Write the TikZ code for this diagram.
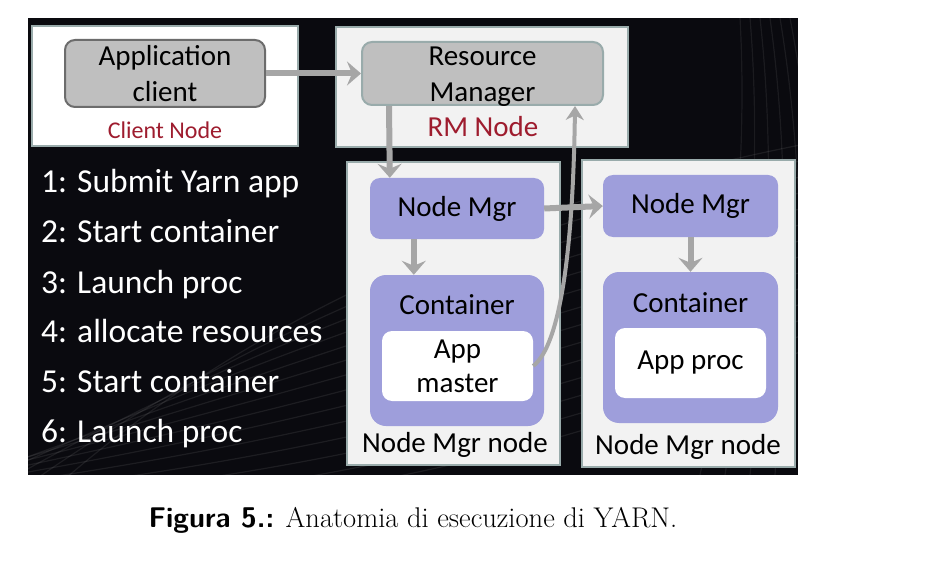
\documentclass[tikz,border=0pt]{standalone}
\usepackage{fontspec}
\usetikzlibrary{arrows.meta,calc}
\newfontfamily\calibri{Carlito}

\definecolor{bgdark}{rgb}{0.04,0.04,0.06}
\definecolor{boxedge}{rgb}{0.60,0.67,0.67}
\definecolor{boxfill}{rgb}{0.95,0.95,0.95}
\definecolor{mgrgray}{rgb}{0.75,0.75,0.75}
\definecolor{lavender}{rgb}{0.62,0.62,0.86}
\definecolor{darkred}{rgb}{0.62,0.11,0.18}
\definecolor{arrowgray}{rgb}{0.65,0.65,0.65}

\tikzset{
  hostbox/.style={draw=boxedge, line width=2.5pt, fill=boxfill, minimum width=#1},
  graybox/.style={draw=boxedge, line width=2pt, fill=mgrgray, rounded corners=10pt,
    align=center, font=\calibri\fontsize{29}{36}\selectfont},
  mgrbox/.style={fill=lavender, rounded corners=10pt, font=\calibri\fontsize{29}{36}\selectfont},
  procbox/.style={fill=white, rounded corners=10pt, align=center,
    font=\calibri\fontsize{29}{34}\selectfont},
  hostlabel/.style={font=\calibri\fontsize{29}{34}\selectfont},
  steplabel/.style={anchor=base west, text=white, font=\calibri\fontsize{33.5}{38}\selectfont},
  arr/.style={draw=arrowgray, line width=6pt, -{Stealth[length=14pt,width=24pt,inset=5pt]}},
}

\begin{document}
\begin{tikzpicture}[x=1pt, y=-1pt, inner sep=0pt]
    \useasboundingbox (0,0) rectangle (926,572);
    % background
    \fill[bgdark] (28,18) rectangle (798,475);
    \begin{scope}
        \clip (28,18) rectangle (798,475);
        \foreach \k in {0,...,13}
            \draw[white, opacity=0.08, line width=1.2pt]
                (960,120+12*\k) .. controls (700,150+20*\k) and (300,250+25*\k) .. (20-40*\k,520);
        \foreach \k in {0,...,5}
            \draw[white, opacity=0.07, line width=1.2pt]
                (740+10*\k,18) .. controls (750+15*\k,200) and (720+20*\k,380) .. (700+25*\k,475);
    \end{scope}

    % client node
    \node[hostbox=266pt, fill=white, minimum height=120pt] (clienthost) at (165,86) {};
    \node[graybox, draw=gray!85!black, minimum width=200pt, minimum height=67pt] (appclient) at (165,73.5)
        {Application\\client};
    \node[text=darkred, font=\calibri\fontsize{24}{28}\selectfont] (clientlbl) at (165,130) {Client Node};

    % resource manager node
    \node[hostbox=292pt, minimum height=120pt] (rmhost) at (482,87) {};
    \node[graybox, minimum width=241pt, minimum height=63pt] (rm) at (482.5,73.5)
        {\raisebox{-2pt}{Resource}\\\smash{\raisebox{-2pt}{Manager}}};
    \node[hostlabel, text=darkred] (rmlbl) at (483,127) {RM Node};

    % node manager node (left)
    \node[hostbox=213pt, minimum height=303pt] (hostA) at (453.5,313.5) {};
    \node[mgrbox, minimum width=174pt, minimum height=61pt] (nmA) at (457,208.5) {Node Mgr};
    \node[mgrbox, rounded corners=16pt, minimum width=174pt, minimum height=151pt] (contA) at (457,350.5) {};
    \node[hostlabel] (contAlbl) at (457,305) {Container};
    \node[procbox, minimum width=151pt, minimum height=70pt] (amaster) at (457.5,366) {App\\master};
    \node[hostlabel] (hostAlbl) at (455,445) {Node Mgr node};

    % node manager node (right)
    \node[hostbox=213pt, minimum height=307pt] (hostB) at (688.5,313.5) {};
    \node[mgrbox, minimum width=175pt, minimum height=62pt] (nmB) at (690.5,206) {Node Mgr};
    \node[mgrbox, rounded corners=16pt, minimum width=175pt, minimum height=151pt] (contB) at (690.5,347.5) {};
    \node[hostlabel] (contBlbl) at (690.5,303) {Container};
    \node[procbox, minimum width=151pt, minimum height=70pt] (aproc) at (690.5,363) {App proc};
    \node[hostlabel] (hostBlbl) at (688,447) {Node Mgr node};

    % steps
    \node[steplabel] (s1) at (41,193) {1: Submit Yarn app};
    \node[steplabel] (s2) at (41,243) {2: Start container};
    \node[steplabel] (s3) at (41,293) {3: Launch proc};
    \node[steplabel] (s4) at (41,342) {4: allocate resources};
    \node[steplabel] (s5) at (41,392) {5: Start container};
    \node[steplabel] (s6) at (41,442) {6: Launch proc};

    % arrows
    \draw[arr] (appclient.east) -- (rm.west);
    \draw[arr] ([xshift=28pt]rm.south west) -- ([xshift=20pt]nmA.north west);
    \draw[arr] ([xshift=44pt]nmA.south west) -- ([xshift=44pt]contA.north west);
    \draw[arr] (nmB.south) -- (contB.north);
    \draw[draw=arrowgray, line width=4pt, -{Stealth[length=14pt,width=18pt]}]
        (amaster.east) .. controls +(27,-21) and +(-2,145) .. ([xshift=-29pt]rm.south east);
    \draw[arr] (nmA.east) -- (nmB.west);

    % caption
    \node (caption) at (413,520) {\fontsize{28.5}{32}\selectfont{\sffamily\bfseries Figura 5.:} Anatomia di esecuzione di YARN.};
\end{tikzpicture}
\end{document}
